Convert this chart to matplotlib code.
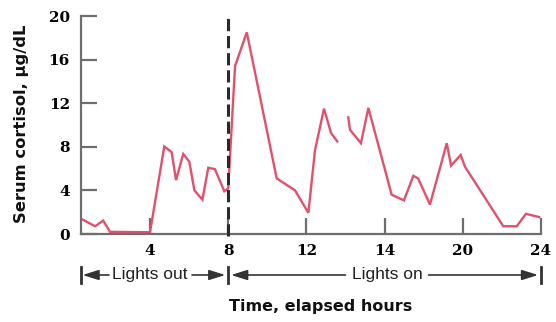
import numpy as np
import matplotlib
matplotlib.use("Agg")
import matplotlib.pyplot as plt
from matplotlib.transforms import blended_transform_factory

# Data (two segments, gap between ~13.6 h and ~14.1 h)
hours_a = [0.42, 1.19, 1.61, 1.95, 4.0, 4.73, 5.11, 5.33, 5.70, 6.01, 6.27, 6.68,
           6.98, 7.32, 7.80, 8.0, 8.35, 8.95, 10.48, 11.42, 12.10, 12.44, 12.90,
           13.26, 13.58]
cortisol_a = [1.45, 0.71, 1.23, 0.2, 0.16, 8.03, 7.5, 4.94, 7.34, 6.64, 4.0, 3.15,
              6.08, 5.95, 3.92, 4.17, 15.4, 18.5, 5.1, 4.0, 1.94, 7.7, 11.5,
              9.26, 8.5]
hours_b = [14.14, 14.23, 14.79, 15.17, 16.36, 16.99, 17.47, 17.72, 18.32, 19.18,
           19.40, 19.89, 20.11, 22.07, 22.76, 23.23, 23.91]
cortisol_b = [10.7, 9.56, 8.33, 11.57, 3.61, 3.08, 5.34, 5.09, 2.7, 8.33,
              6.27, 7.25, 6.18, 0.71, 0.71, 1.85, 1.55]

x_tick_pos = [4, 8, 12, 16, 20, 24]
x_tick_labels = ["4", "8", "12", "14", "20", "24"]
y_ticks = [0, 4, 8, 12, 16, 20]

W, H = 556, 322
fig = plt.figure(figsize=(W / 100, H / 100), dpi=100)
ax = fig.add_axes([81 / W, 1 - 234 / H, (541 - 81) / W, (234 - 16) / H])

line_color = "#e2506c"
ax.plot(hours_a, cortisol_a, color=line_color, lw=1.7, solid_joinstyle="miter")
ax.plot(hours_b, cortisol_b, color=line_color, lw=1.7, solid_joinstyle="miter")

ax.set_xlim(0.47, 24)
ax.set_ylim(0, 20)

gray = "#6e6e6e"
for s in ["top", "right"]:
    ax.spines[s].set_visible(False)
for s in ["left", "bottom"]:
    ax.spines[s].set_color(gray)
    ax.spines[s].set_linewidth(1.6)

tick_font = dict(family="DejaVu Serif", weight="heavy", size=11)
ax.set_xticks(x_tick_pos)
ax.set_xticklabels(x_tick_labels, **tick_font)
ax.set_yticks(y_ticks)
ax.set_yticklabels([str(v) for v in y_ticks], **tick_font)
ax.tick_params(direction="in", length=11.5, width=1.6, color=gray, pad=7)
ax.tick_params(axis="y", pad=8)

# Dashed "lights on" line at 8 h
ax.plot([8, 8], [-0.2, 20.1], color="#2a2a2a", lw=2.2, ls=(0, (4, 1.6)),
        clip_on=False, zorder=5)

# Lights out / Lights on annotation row
trans = blended_transform_factory(ax.transData, fig.transFigure)
row_y = 1 - 275 / H
bar_lo, bar_hi = 1 - 283 / H, 1 - 267 / H
dark = "#333333"
for xb in [0.47, 8, 24]:
    fig.add_artist(plt.Line2D([xb, xb], [bar_lo, bar_hi], transform=trans,
                              color=dark, lw=2))

def arrow(x0, x1):
    ax.annotate("", xy=(x1, row_y), xytext=(x0, row_y),
                xycoords=trans, textcoords=trans,
                arrowprops=dict(arrowstyle="-|>,head_length=0.7,head_width=0.22",
                                color=dark, lw=1.2, shrinkA=0, shrinkB=0,
                                mutation_scale=14),
                annotation_clip=False)

arrow(1.9, 0.55)
arrow(6.15, 7.85)
arrow(14.0, 8.15)
arrow(18.25, 23.85)

lab_font = dict(family="Liberation Sans", size=12.5, color="#222222",
                ha="center", va="center")
fig.text(4.0, row_y, "Lights out", transform=trans, **lab_font)
fig.text(16.15, row_y, "Lights on", transform=trans, **lab_font)

fig.text(321 / W, 1 - 307 / H, "Time, elapsed hours", ha="center", va="center",
         family="DejaVu Sans", weight="heavy", size=11.5, color="#111111")
fig.text(22 / W, 1 - 124 / H, "Serum cortisol, \u03bcg/dL", ha="center",
         va="center", rotation=90, family="DejaVu Sans", weight="heavy",
         size=11.8, color="#111111")

fig.savefig("out.png", dpi=100)
